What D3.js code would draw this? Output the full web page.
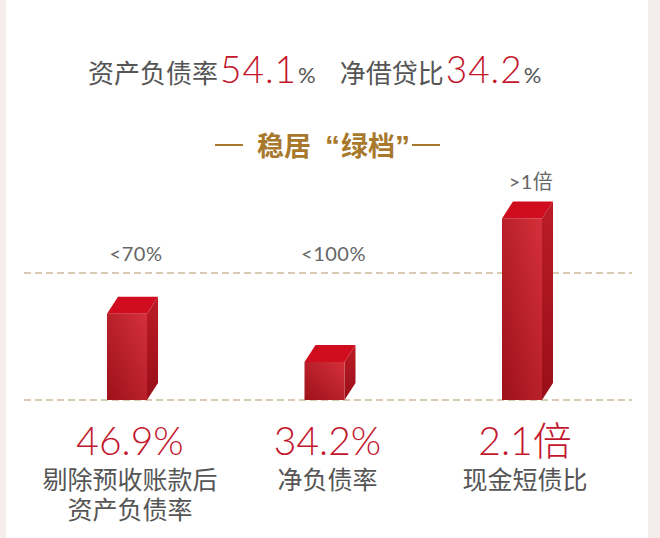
<!DOCTYPE html>
<html lang="zh">
<head>
<meta charset="UTF-8">
<title>稳居绿档</title>
<script src="https://cdnjs.cloudflare.com/ajax/libs/d3/7.8.5/d3.min.js"></script>
<style>
  body { margin: 0; background: #fff; }
  svg { display: block; }
</style>
</head>
<body>
<svg id="chart" width="660" height="538"></svg>
<script>
// data
const headline = [
  { label: "资产负债率", value: "54.1" },
  { label: "净借贷比", value: "34.2" }
];
const categories = ["剔除预收账款后\n资产负债率", "净负债率", "现金短债比"];
const valueLabels = ["46.9%", "34.2%", "2.1倍"];
const thresholdLabels = ["<70%", "<100%", ">1倍"];
// bar height relative to the "green tier" threshold line (1 = on the line)
const levels = [0.68, 0.30, 1.43];

const svg = d3.select("#chart");
const W = 660, H = 538;
const cjk = "'Noto Sans CJK SC', 'Noto Sans', sans-serif";
const latin = "'Liberation Sans', Arial, sans-serif";
const light = "Lato, 'Liberation Sans', Arial, sans-serif";
const red = "#c3162c", grey = "#555", gold = "#a8792c";

// side strips of the card
svg.append("rect").attr("x", 0).attr("y", 0).attr("width", 6).attr("height", H).attr("fill", "#f5edeb");
svg.append("rect").attr("x", 648).attr("y", 0).attr("width", 12).attr("height", H).attr("fill", "#f5edeb");

// headline
const head = svg.append("text").attr("x", 88).attr("y", 83);
headline.forEach((d, i) => {
  head.append("tspan").attr("dx", i ? 24 : 0)
    .attr("font-family", cjk).attr("font-size", 26).attr("fill", grey).text(d.label);
  head.append("tspan").attr("dx", 2)
    .attr("font-family", light).attr("font-weight", 300).attr("font-size", 37).attr("letter-spacing", 1)
    .attr("fill", red).text(d.value);
  head.append("tspan").attr("dx", 1)
    .attr("font-family", light).attr("font-size", 22).attr("fill", grey).text("%");
});

// title with side dashes
svg.append("line").attr("x1", 215).attr("x2", 243).attr("y1", 145).attr("y2", 145)
  .attr("stroke", gold).attr("stroke-width", 2);
svg.append("line").attr("x1", 412).attr("x2", 440).attr("y1", 145).attr("y2", 145)
  .attr("stroke", gold).attr("stroke-width", 2);
const title = svg.append("text").attr("x", 257).attr("y", 156)
  .attr("font-weight", 700).attr("fill", gold);
title.append("tspan").attr("font-family", cjk).attr("font-size", 27).text("稳居");
title.append("tspan").attr("dx", 14).attr("font-family", latin).attr("font-size", 30).text("“");
title.append("tspan").attr("dx", 1).attr("font-family", cjk).attr("font-size", 27).text("绿档");
title.append("tspan").attr("font-family", latin).attr("font-size", 30).text("”");

// scales
const base = 400;
const x = d3.scalePoint().domain(categories).range([127, 522]);
const y = d3.scaleLinear().domain([0, 1]).range([base, 273]);
const half = 20, dx = 11, dy = 17;

// reference lines
[0, 1].forEach(v => {
  svg.append("line").attr("x1", 24).attr("x2", 632)
    .attr("y1", y(v)).attr("y2", y(v))
    .attr("stroke", "#cbb99b").attr("stroke-width", 1.6)
    .attr("stroke-dasharray", "7,4");
});

// gradients
const defs = svg.append("defs");
const gf = defs.append("linearGradient").attr("id", "front")
  .attr("x1", 0).attr("y1", 1).attr("x2", 1).attr("y2", 0);
gf.append("stop").attr("offset", 0).attr("stop-color", "#9d1119");
gf.append("stop").attr("offset", 1).attr("stop-color", "#d5303b");
const gs = defs.append("linearGradient").attr("id", "side")
  .attr("x1", 0).attr("y1", 0).attr("x2", 0).attr("y2", 1);
gs.append("stop").attr("offset", 0).attr("stop-color", "#bb1c26");
gs.append("stop").attr("offset", 1).attr("stop-color", "#9a0f18");

// bars
const bars = svg.selectAll("g.bar").data(categories).enter().append("g").attr("class", "bar");
bars.each(function(c, i) {
  const g = d3.select(this);
  const x0 = x(c) - half, x1 = x(c) + half, top = y(levels[i]);
  g.append("polygon")
    .attr("points", [[x1, top], [x1 + dx, top - dy], [x1 + dx, base - dy], [x1, base]].join(" "))
    .attr("fill", "url(#side)");
  g.append("polygon")
    .attr("points", [[x0, top], [x0 + dx, top - dy], [x1 + dx, top - dy], [x1, top]].join(" "))
    .attr("fill", "#cf0d1f");
  g.append("rect").attr("x", x0).attr("y", top).attr("width", x1 - x0).attr("height", base - top)
    .attr("fill", "url(#front)");
});

// threshold labels
svg.selectAll("text.thr").data(categories).enter().append("text").attr("class", "thr")
  .attr("x", c => x(c) + 9)
  .attr("y", (c, i) => Math.min(y(1), y(levels[i]) - dy) - 12)
  .attr("text-anchor", "middle")
  .attr("font-family", light + ", " + cjk).attr("font-size", 20).attr("letter-spacing", 0.5)
  .attr("fill", "#666")
  .text((c, i) => thresholdLabels[i]);

// values under bars
svg.selectAll("text.val").data(categories).enter().append("text").attr("class", "val")
  .attr("x", c => x(c) + 3).attr("y", 455)
  .attr("text-anchor", "middle")
  .attr("font-family", light + ", " + cjk).attr("font-weight", 300).attr("font-size", 39)
  .attr("fill", red)
  .text((c, i) => valueLabels[i]);

// category names
const cat = svg.selectAll("text.cat").data(categories).enter().append("text").attr("class", "cat")
  .attr("x", c => x(c) + 3).attr("y", 489)
  .attr("text-anchor", "middle")
  .attr("font-family", cjk).attr("font-size", 25).attr("fill", grey);
cat.selectAll("tspan").data(c => c.split("\n")).enter().append("tspan")
  .attr("x", function() { return d3.select(this.parentNode).attr("x"); })
  .attr("dy", (d, j) => j ? 30 : 0)
  .text(d => d);
</script>
</body>
</html>
